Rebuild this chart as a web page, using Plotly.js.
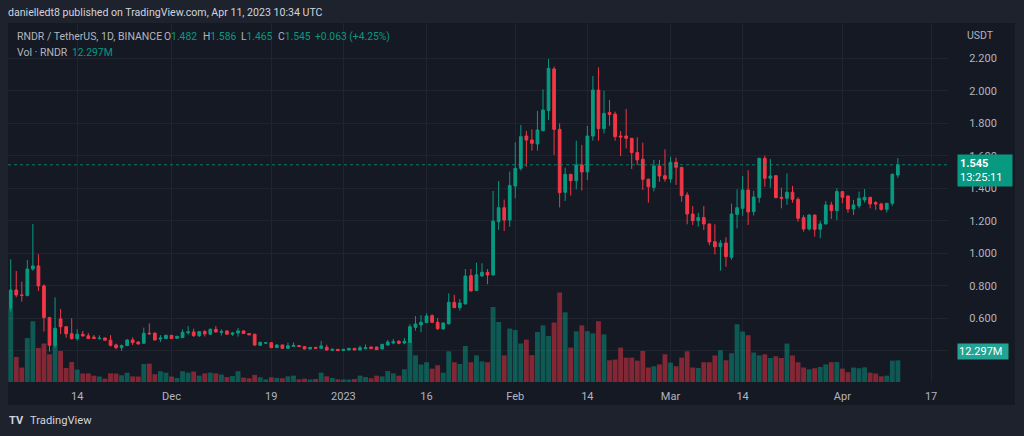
<!DOCTYPE html>
<html><head><meta charset="utf-8">
<script src="https://cdn.plot.ly/plotly-3.0.1.min.js"></script>
<style>html,body{margin:0;padding:0;background:#1e222d;}#chart{width:1024px;height:436px;}</style>
</head><body><div id="chart"></div>
<script>
const startDate = [2022, 10, 2];
const openP = [0.662,0.775,0.744,0.741,0.904,0.923,0.80,0.605,0.433,0.597,
0.549,0.506,0.4755,0.503,0.493,0.485,0.477,0.48,0.466,0.437,
0.42,0.433,0.468,0.455,0.447,0.509,0.51,0.473,0.476,0.496,
0.478,0.482,0.512,0.517,0.494,0.519,0.503,0.533,0.514,0.523,
0.503,0.51,0.523,0.507,0.503,0.435,0.448,0.451,0.42,0.437,
0.416,0.428,0.433,0.427,0.412,0.422,0.416,0.422,0.404,0.41,
0.403,0.406,0.416,0.406,0.414,0.424,0.424,0.412,0.437,0.449,
0.459,0.449,0.453,0.545,0.56,0.574,0.617,0.576,0.535,0.566,
0.699,0.666,0.689,0.863,0.771,0.861,0.884,0.867,1.195,1.281,
1.205,1.414,1.523,1.722,1.697,1.673,1.755,1.878,2.134,1.763,
1.376,1.486,1.447,1.544,1.501,1.722,2.005,1.767,1.866,1.857,
1.722,1.722,1.708,1.62,1.579,1.456,1.406,1.538,1.478,1.458,
1.56,1.529,1.359,1.242,1.201,1.22,1.181,1.072,1.041,1.064,
0.976,1.24,1.277,1.39,1.257,1.343,1.585,1.462,1.478,1.345,
1.339,1.376,1.333,1.22,1.15,1.236,1.148,1.181,1.298,1.263,
1.38,1.353,1.273,1.292,1.329,1.345,1.312,1.304,1.271,1.308,
1.482];
const highP = [0.964,0.892,0.826,0.96,1.181,0.995,0.81,0.61,0.73,0.658,
0.552,0.601,0.533,0.523,0.51,0.498,0.496,0.482,0.497,0.445,
0.44,0.473,0.484,0.46,0.543,0.57,0.512,0.498,0.50,0.498,
0.492,0.533,0.553,0.537,0.521,0.529,0.539,0.553,0.533,0.527,
0.517,0.541,0.527,0.509,0.505,0.457,0.455,0.452,0.44,0.438,
0.451,0.452,0.436,0.428,0.424,0.424,0.461,0.438,0.414,0.412,
0.412,0.418,0.418,0.432,0.44,0.426,0.426,0.442,0.467,0.474,
0.467,0.48,0.564,0.615,0.62,0.631,0.625,0.603,0.575,0.754,
0.746,0.72,0.904,0.904,0.943,0.939,0.904,1.384,1.445,1.331,
1.503,1.683,1.79,1.753,1.763,1.876,2.009,2.196,2.149,1.8,
1.527,1.49,1.693,1.667,1.784,2.091,2.144,2.001,1.944,1.872,
1.753,1.888,1.71,1.714,1.681,1.46,1.575,1.575,1.64,1.595,
1.589,1.532,1.376,1.291,1.25,1.291,1.183,1.179,1.082,1.099,
1.306,1.394,1.476,1.511,1.385,1.588,1.601,1.581,1.48,1.404,
1.492,1.415,1.345,1.236,1.242,1.237,1.199,1.322,1.318,1.40,
1.382,1.355,1.329,1.38,1.396,1.347,1.322,1.312,1.31,1.492,
1.586];
const lowP = [0.64,0.73,0.703,0.735,0.894,0.769,0.519,0.396,0.42,0.504,
0.482,0.47,0.463,0.49,0.474,0.474,0.47,0.464,0.427,0.41,
0.40,0.43,0.437,0.44,0.445,0.498,0.465,0.455,0.474,0.474,
0.476,0.48,0.50,0.486,0.485,0.489,0.497,0.513,0.495,0.499,
0.493,0.488,0.505,0.497,0.433,0.43,0.443,0.418,0.418,0.414,
0.412,0.426,0.425,0.41,0.41,0.414,0.412,0.402,0.401,0.4,
0.4,0.404,0.404,0.402,0.41,0.412,0.406,0.41,0.435,0.441,
0.441,0.441,0.451,0.525,0.515,0.57,0.574,0.529,0.532,0.564,
0.664,0.648,0.687,0.767,0.769,0.857,0.81,0.865,1.144,1.138,
1.164,1.339,1.509,1.533,1.632,1.632,1.75,1.82,1.605,1.283,
1.322,1.355,1.394,1.386,1.451,1.693,1.693,1.738,1.784,1.693,
1.599,1.646,1.519,1.544,1.39,1.312,1.382,1.441,1.441,1.435,
1.421,1.318,1.179,1.175,1.164,1.144,1.05,0.994,0.894,0.918,
0.96,1.154,1.231,1.175,1.233,1.312,1.41,1.404,1.339,1.277,
1.298,1.312,1.195,1.134,1.14,1.103,1.093,1.179,1.212,1.205,
1.308,1.25,1.236,1.277,1.312,1.277,1.267,1.263,1.251,1.292,
1.465];
const closeP = [0.775,0.744,0.742,0.904,0.923,0.80,0.605,0.435,0.5395,0.549,
0.506,0.4755,0.5026,0.492,0.476,0.477,0.478,0.466,0.435,0.42,
0.433,0.4675,0.451,0.443,0.509,0.506,0.4675,0.479,0.496,0.476,
0.49,0.515,0.517,0.494,0.519,0.505,0.533,0.517,0.52,0.503,
0.51,0.523,0.507,0.499,0.436,0.453,0.451,0.42,0.437,0.416,
0.432,0.434,0.427,0.412,0.422,0.416,0.431,0.406,0.41,0.402,
0.41,0.416,0.406,0.42,0.42,0.414,0.408,0.441,0.455,0.457,
0.447,0.459,0.549,0.566,0.576,0.615,0.576,0.537,0.572,0.699,
0.666,0.695,0.861,0.769,0.869,0.884,0.867,1.199,1.281,1.205,
1.417,1.523,1.718,1.697,1.677,1.759,1.882,2.138,1.763,1.374,
1.486,1.447,1.544,1.501,1.722,2.005,1.767,1.861,1.855,1.718,
1.716,1.708,1.62,1.575,1.456,1.41,1.538,1.476,1.458,1.56,
1.53,1.355,1.242,1.201,1.22,1.181,1.07,1.041,1.063,0.98,
1.242,1.281,1.39,1.255,1.347,1.585,1.462,1.476,1.343,1.339,
1.376,1.333,1.216,1.15,1.236,1.148,1.181,1.298,1.263,1.38,
1.345,1.273,1.298,1.339,1.345,1.304,1.304,1.271,1.308,1.486,
1.545];
const volumeM = [41.6,14.2,8.2,24.9,34.4,19.3,21.8,15.7,20.4,17.6,
7.9,11.3,7.0,4.8,4.9,3.6,3.1,1.9,4.9,4.8,
3.8,5.3,3.2,3.1,10.2,10.4,4.4,6.1,5.3,3.1,
2.3,6.1,5.3,5.9,3.6,4.9,5.3,4.9,4.2,2.8,
3.4,6.1,2.5,2.1,4.0,2.7,1.5,2.7,2.3,2.1,
3.2,3.6,1.5,1.9,1.4,1.7,5.3,3.2,2.3,1.5,
1.4,1.4,1.7,3.6,2.8,2.1,3.6,3.2,6.2,4.9,
3.6,7.2,22.7,15.1,9.9,11.2,7.6,9.5,5.3,17.4,
11.2,10.2,20.4,11.2,15.1,11.7,11.2,42.5,34.0,15.1,
30.3,29.5,21.8,24.0,15.2,28.3,32.1,26.1,33.7,50.7,
39.5,19.5,28.7,32.1,28.8,27.6,34.4,27.0,12.3,12.7,
19.5,13.8,13.8,12.1,17.6,8.2,8.9,10.0,15.7,11.0,
8.9,13.8,17.4,8.2,7.9,11.2,11.2,15.0,18.0,12.3,
16.3,32.7,28.6,26.5,16.7,15.1,15.7,13.6,14.6,13.6,
21.8,15.0,11.2,8.2,7.2,7.8,8.5,10.0,11.2,11.3,
7.6,5.5,8.2,7.8,8.3,5.3,4.8,3.2,3.6,12.1,
12.297];
const tickDates = ['2022-11-14','2022-12-01','2022-12-19','2023-01-01','2023-01-16','2023-02-01','2023-02-14','2023-03-01','2023-03-14','2023-04-01','2023-04-17'];
const tickLabels = ['14','Dec','19','2023','16','Feb','14','Mar','14','Apr','17'];
const priceTicks = [0.4,0.6,0.8,1.0,1.2,1.4,1.6,1.8,2.0,2.2];
const headerTitle = 'danielledt8 published on TradingView.com, Apr 11, 2023 10:34 UTC';
const symbolText = 'RNDR / TetherUS, 1D, BINANCE';
const ohlcLetters = ['O', 'H', 'L', 'C'];
const ohlcValues = ['1.482', '1.586', '1.465', '1.545'];
const lastChg = '+0.063 (+4.25%)';
const volLabel = 'Vol · RNDR', volValue = '12.297M', countdown = '13:25:11';

const UP = '#089981', DN = '#f23645';
const dates = openP.map((_, i) => new Date(Date.UTC(startDate[0], startDate[1], startDate[2] + i)).toISOString().slice(0, 10));
const volColors = openP.map((o, i) => closeP[i] >= o ? 'rgba(8,153,129,0.5)' : 'rgba(242,54,69,0.5)');
const FONT = 'Roboto, "Noto Sans", sans-serif';
const TXT = '#b2b5be';

const volTrace = {
  type: 'bar', x: dates, y: volumeM, yaxis: 'y', xaxis: 'x',
  marker: {color: volColors, line: {width: 0}}, hoverinfo: 'skip'
};
const candleTrace = {
  type: 'candlestick', x: dates, open: openP, high: highP, low: lowP, close: closeP,
  xaxis: 'x', yaxis: 'y2',
  increasing: {line: {color: UP, width: 1}, fillcolor: UP},
  decreasing: {line: {color: DN, width: 1}, fillcolor: DN},
  hoverinfo: 'skip'
};

const lastIdx = closeP.length - 1;
const span = (c, t) => '<span style="color:' + c + '">' + t + '</span>';
const px2x = px => (px - 8) / 940;
const px2y = py => (382 - py) / 359;
const txt = (x, y, text, size, color) => ({xref: 'paper', yref: 'paper', x: px2x(x), y: px2y(y),
  xanchor: 'left', yanchor: 'middle', showarrow: false, text: text, borderpad: 0,
  font: {family: FONT, size: size, color: color}});

const ohlcX = [163, 202, 240, 277];
const annotations = [
  txt(7, 13, headerTitle, 10.6, '#d1d4dc'),
  txt(16, 36.5, symbolText, 10.5, TXT),
  txt(314, 36.5, lastChg, 10.3, UP),
  txt(16, 52, volLabel, 10.5, TXT),
  txt(71, 52, volValue, 10.3, UP),
  txt(966, 35, 'USDT', 10.5, TXT),
  txt(29, 421, 'TradingView', 11.2, '#d1d4dc'),
  txt(8, 421, '<b>TV</b>', 11, '#d1d4dc'),
  {xref: 'paper', yref: 'y2', x: px2x(957), y: closeP[lastIdx], xanchor: 'left', yanchor: 'middle', yshift: -6,
   showarrow: false, align: 'left', width: 50, bgcolor: UP, borderpad: 2,
   text: '<b>' + ohlcValues[3] + '</b><br>' + countdown, font: {family: FONT, size: 11, color: '#ffffff'}},
  {xref: 'paper', yref: 'y', x: px2x(957), y: volumeM[lastIdx], xanchor: 'left', yanchor: 'middle', yshift: 9,
   showarrow: false, align: 'left', width: 48, bgcolor: '#22a393', borderpad: 1,
   text: volValue, font: {family: FONT, size: 11, color: '#ffffff'}}
];
ohlcLetters.forEach((l, k) => annotations.push(txt(ohlcX[k], 36.5, l + span(UP, ohlcValues[k]), 10.3, TXT)));

const layout = {
  width: 1024, height: 436,
  margin: {l: 8, r: 76, t: 23, b: 54, pad: 0},
  paper_bgcolor: '#1e222d', plot_bgcolor: '#151924',
  showlegend: false, bargap: 0.12, dragmode: false,
  font: {family: FONT, color: TXT, size: 11},
  xaxis: {
    type: 'date', range: ['2022-11-01 12:20', '2023-04-20 01:00'],
    tickvals: tickDates, ticktext: tickLabels, tickangle: 0,
    showgrid: true, gridcolor: '#20242f', gridwidth: 1, zeroline: false, showline: false,
    ticks: 'outside', ticklen: 4, tickcolor: 'rgba(0,0,0,0)',
    tickfont: {family: FONT, color: TXT, size: 11},
    rangeslider: {visible: false}, fixedrange: true
  },
  yaxis: {range: [0, 203.4], visible: false, showgrid: false, zeroline: false, fixedrange: true},
  yaxis2: {
    overlaying: 'y', side: 'right', range: [0.209, 2.417],
    tickvals: priceTicks, tickformat: '.3f',
    showgrid: true, gridcolor: '#20242f', gridwidth: 1, zeroline: false, showline: false,
    ticks: 'outside', ticklen: 14, tickcolor: 'rgba(0,0,0,0)', ticklabelstandoff: 4,
    tickfont: {family: FONT, color: TXT, size: 11}, fixedrange: true
  },
  shapes: [
    {type: 'rect', xref: 'paper', yref: 'paper', x0: 0, x1: px2x(1015), y0: px2y(405), y1: 1,
     fillcolor: '#151924', line: {width: 0}, layer: 'below'},
    {type: 'line', xref: 'paper', yref: 'y2', x0: 0, x1: 1, y0: closeP[lastIdx], y1: closeP[lastIdx],
     line: {color: 'rgba(8,153,129,0.75)', width: 1, dash: 'dot'}}
  ],
  annotations: annotations
};
Plotly.newPlot('chart', [volTrace, candleTrace], layout, {displayModeBar: false, staticPlot: true});
</script></body></html>
